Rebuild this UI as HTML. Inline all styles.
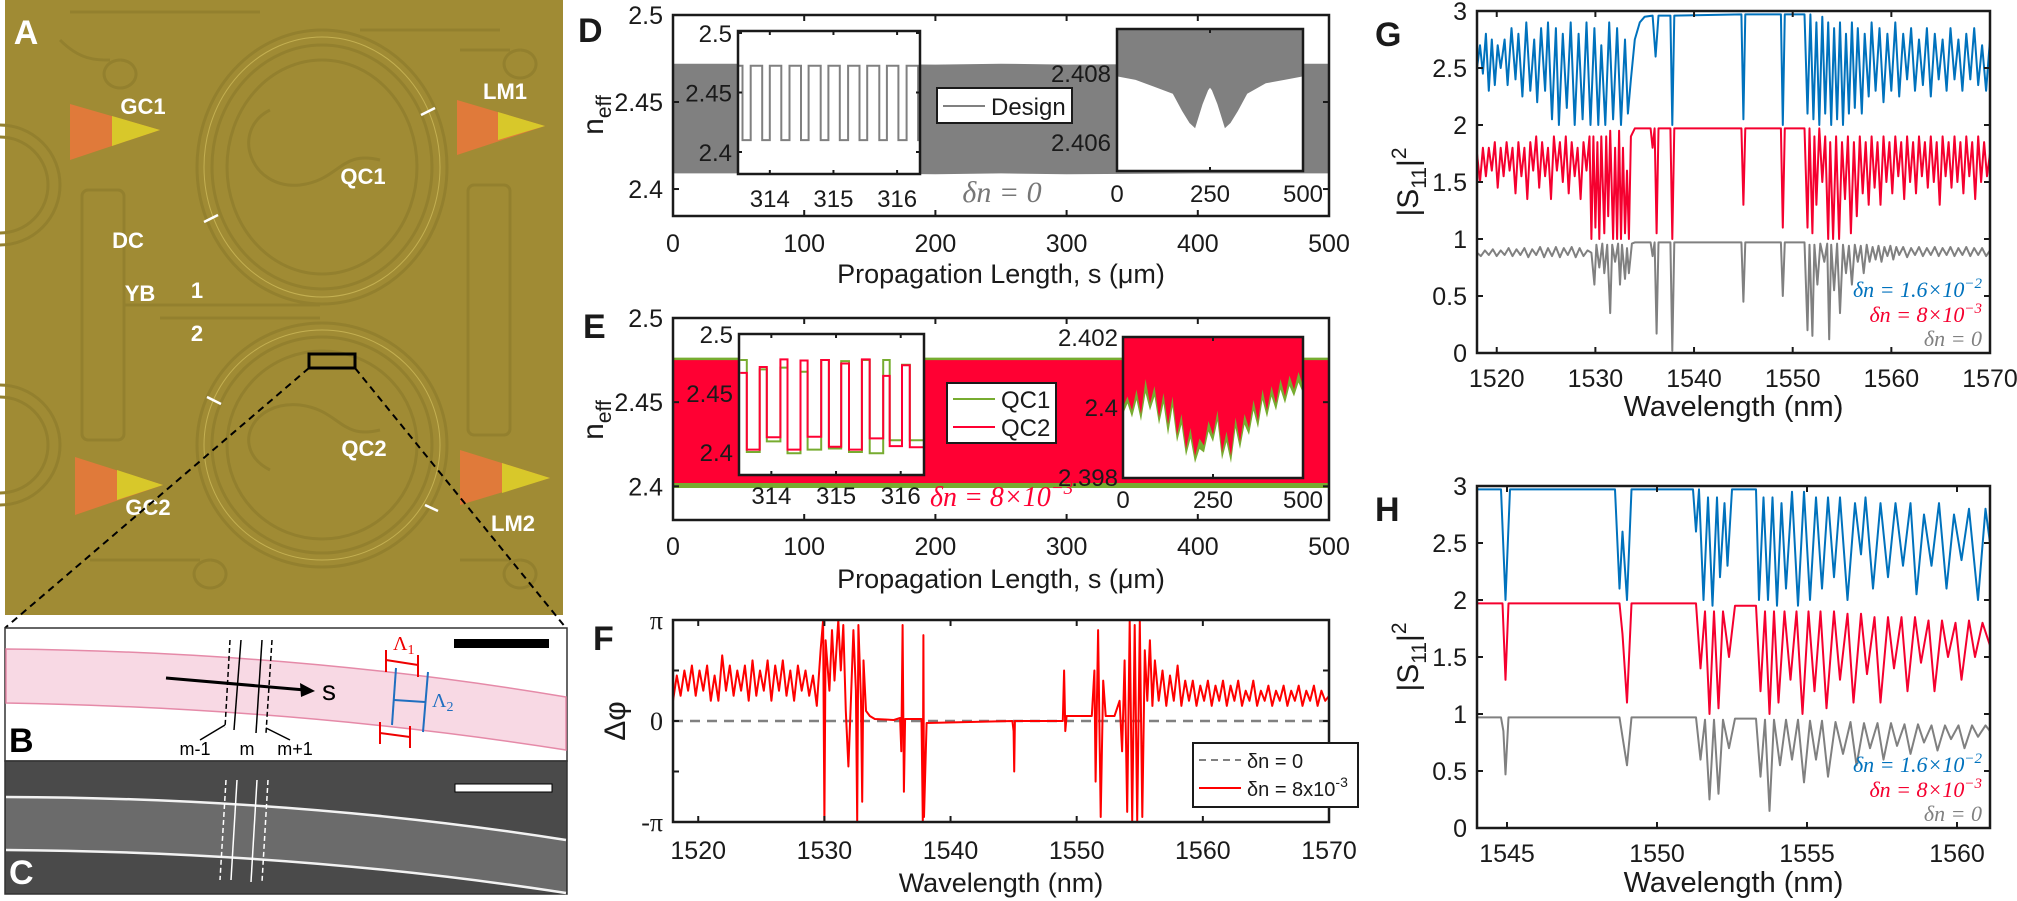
<!DOCTYPE html>
<html><head><meta charset="utf-8"><title>Figure</title>
<style>
html,body{margin:0;padding:0;background:#fff;}
svg{display:block;font-family:"Liberation Sans",sans-serif;}
</style></head>
<body>
<svg id="fig" xmlns="http://www.w3.org/2000/svg" width="2017" height="901" viewBox="0 0 2017 901">
<rect x="0" y="0" width="2017" height="901" fill="#fff"/>
<!-- Panel A photo -->
<g>
  <rect x="5" y="0" width="558" height="615" fill="#a08b34"/>
  <g fill="none" stroke="#93802e" stroke-width="3">
    <ellipse cx="322" cy="167" rx="125" ry="137"/>
    <ellipse cx="322" cy="167" rx="110" ry="122"/>
    <ellipse cx="322" cy="167" rx="95" ry="107"/>
    <ellipse cx="322" cy="445" rx="125" ry="122"/>
    <ellipse cx="322" cy="445" rx="110" ry="108"/>
    <ellipse cx="322" cy="445" rx="95" ry="94"/>
    <path d="M270,110 C230,130 250,190 300,185 C340,180 340,150 380,160"/>
    <path d="M270,470 C230,450 250,400 300,405 C340,410 340,440 380,430"/>
    <circle cx="0" cy="185" r="60"/><circle cx="0" cy="185" r="48"/>
    <circle cx="0" cy="445" r="60"/><circle cx="0" cy="445" r="48"/>
    <rect x="82" y="190" width="42" height="250" rx="6"/>
    <rect x="468" y="185" width="42" height="250" rx="6"/>
    <path d="M125,305 L320,305 M160,318 L320,318"/>
    <path d="M60,40 C80,60 95,60 110,60 M120,60 a16,14 0 1,0 0.1,0"/>
    <path d="M90,560 L200,560 M210,560 a16,14 0 1,0 0.1,0"/>
    <path d="M460,50 L510,50 M520,50 a16,14 0 1,0 0.1,0"/>
    <path d="M460,560 L510,560 M520,560 a16,14 0 1,0 0.1,0"/>
    <path d="M70,12 L260,12 M360,30 L500,30"/>
  </g>
  <g fill="none" stroke="#c4b052" stroke-width="1">
    <ellipse cx="322" cy="167" rx="118" ry="130"/>
    <ellipse cx="322" cy="445" rx="118" ry="115"/>
  </g>
  <polygon points="70,104 160,130 70,160" fill="#e07a3a"/>
  <polygon points="112,116 160,130 112,146" fill="#d8c82a"/>
  <polygon points="457,100 545,126 457,155" fill="#e07a3a"/>
  <polygon points="498,112 545,126 498,140" fill="#d8c82a"/>
  <polygon points="75,457 163,485 75,515" fill="#e07a3a"/>
  <polygon points="117,470 163,485 117,500" fill="#d8c82a"/>
  <polygon points="460,450 550,478 460,505" fill="#e07a3a"/>
  <polygon points="502,463 550,478 502,493" fill="#d8c82a"/>
  <g stroke="#fff" stroke-width="2.5">
    <line x1="421" y1="115" x2="435" y2="108"/><line x1="204" y1="222" x2="218" y2="215"/>
    <line x1="207" y1="397" x2="221" y2="404"/><line x1="425" y1="505" x2="438" y2="511"/>
  </g>
  <g fill="#fff" font-weight="bold" font-size="22" text-anchor="middle">
    <text x="143" y="114">GC1</text>
    <text x="505" y="99">LM1</text>
    <text x="363" y="184">QC1</text>
    <text x="128" y="248">DC</text>
    <text x="140" y="301">YB</text>
    <text x="197" y="298">1</text>
    <text x="197" y="341">2</text>
    <text x="364" y="456">QC2</text>
    <text x="148" y="515">GC2</text>
    <text x="513" y="531">LM2</text>
    <text x="26" y="44" font-size="34">A</text>
  </g>
  <rect x="309" y="354" width="46" height="14" fill="none" stroke="#000" stroke-width="3"/>
  <line x1="309" y1="368" x2="5" y2="628" stroke="#000" stroke-width="2" stroke-dasharray="7,5"/>
  <line x1="355" y1="368" x2="566" y2="628" stroke="#000" stroke-width="2" stroke-dasharray="7,5"/>
</g>
<!-- Panel B -->
<g>
  <rect x="5" y="628" width="562" height="133" fill="#fff" stroke="#333" stroke-width="1.5"/>
  <path d="M6,649 Q300,652 566,697 L566,750 Q300,708 6,703 Z" fill="#f8d9e4" stroke="#e58aa8" stroke-width="1.5"/>
  <rect x="454" y="639" width="95" height="9" fill="#000"/>
  <g stroke="#000" stroke-width="1.5">
    <line x1="230" y1="640" x2="225" y2="728" stroke-dasharray="5,3"/>
    <line x1="241" y1="640" x2="234" y2="730"/>
    <line x1="262" y1="640" x2="256" y2="733"/>
    <line x1="272" y1="640" x2="266" y2="733" stroke-dasharray="5,3"/>
    <line x1="225" y1="725" x2="200" y2="740"/>
    <line x1="266" y1="728" x2="290" y2="740"/>
  </g>
  <line x1="166" y1="678" x2="305" y2="690" stroke="#000" stroke-width="3"/>
  <polygon points="315,691 300,683 301,697" fill="#000"/>
  <text x="322" y="700" font-size="28">s</text>
  <g font-size="18" text-anchor="middle">
    <text x="195" y="755">m-1</text><text x="247" y="755">m</text><text x="295" y="755">m+1</text>
  </g>
  <g stroke="#e00" stroke-width="2">
    <line x1="386" y1="660" x2="418" y2="665"/><line x1="386" y1="650" x2="386" y2="672"/><line x1="418" y1="655" x2="418" y2="677"/>
    <line x1="380" y1="733" x2="410" y2="737"/><line x1="380" y1="722" x2="380" y2="744"/><line x1="410" y1="726" x2="410" y2="748"/>
  </g>
  <g stroke="#1f6fc0" stroke-width="2">
    <line x1="396" y1="668" x2="392" y2="725"/><line x1="428" y1="672" x2="423" y2="732"/><line x1="394" y1="700" x2="425" y2="702"/>
  </g>
  <text x="393" y="650" font-size="20" fill="#e00" font-family="Liberation Serif,serif">Λ<tspan font-size="14" dy="4">1</tspan></text>
  <text x="432" y="707" font-size="20" fill="#1f6fc0" font-family="Liberation Serif,serif">Λ<tspan font-size="14" dy="4">2</tspan></text>
  <text x="9" y="752" font-size="34" font-weight="bold">B</text>
</g>
<!-- Panel C -->
<g>
  <rect x="5" y="761" width="562" height="133" fill="#4a4a4a" stroke="#333" stroke-width="1.5"/>
  <path d="M6,797 Q300,798 566,840 L566,893 Q300,852 6,850 Z" fill="#6b6b6b"/>
  <path d="M6,797 Q300,798 566,840" fill="none" stroke="#f2f2f2" stroke-width="2.5"/>
  <path d="M6,850 Q300,852 566,893" fill="none" stroke="#f2f2f2" stroke-width="2.5"/>
  <g stroke="#fff" stroke-width="1.5">
    <line x1="226" y1="780" x2="220" y2="880" stroke-dasharray="5,3"/>
    <line x1="237" y1="780" x2="231" y2="880"/>
    <line x1="257" y1="780" x2="251" y2="882"/>
    <line x1="268" y1="780" x2="262" y2="882" stroke-dasharray="5,3"/>
  </g>
  <rect x="455" y="784" width="97" height="8" fill="#fff" stroke="#000" stroke-width="1"/>
  <text x="9" y="884" font-size="34" font-weight="bold" fill="#fff">C</text>
</g>
<g id="charts"></g>
</svg>
<script>
// ===== DATA =====
// Panel D
const dBandS = [0, 100, 200, 250, 300, 400, 500];
const dBandTop = [2.472, 2.472, 2.4715, 2.472, 2.4715, 2.472, 2.472];
const dBandBot = [2.409, 2.409, 2.4085, 2.409, 2.4085, 2.409, 2.409];
const dInsetBreaks = [313.5,313.57,313.7,313.88,314.0,314.18,314.31,314.49,314.61,314.8,314.92,315.1,315.23,315.41,315.53,315.72,315.84,316.02,316.15,316.33,316.36];
const dInsetLevels = [2.4725,2.41,2.4725,2.41,2.4725,2.41,2.4725,2.41,2.4725,2.41,2.4725,2.41,2.4725,2.41,2.4725,2.41,2.4725,2.41,2.4725,2.41];
const dIn2S = [0,50,100,150,175,195,210,230,245,250,255,270,290,305,325,350,400,450,500];
const dIn2Low = [2.4079,2.4078,2.4076,2.4074,2.4069,2.40655,2.4064,2.4071,2.4075,2.40757,2.4075,2.4071,2.4064,2.40655,2.4069,2.4074,2.4077,2.4078,2.4079];
// Panel E
const eBandS = [0, 100, 200, 300, 400, 500];
const eRedTop = [2.475, 2.475, 2.475, 2.475, 2.475, 2.475];
const eRedBot = [2.402, 2.402, 2.402, 2.402, 2.402, 2.402];
const eGreenTop = [2.4765, 2.4765, 2.4765, 2.4765, 2.4765, 2.4765];
const eGreenBot = [2.399, 2.399, 2.399, 2.399, 2.399, 2.399];
const eInsetBreaks = [313.52,313.62,313.82,313.93,314.14,314.25,314.45,314.56,314.77,314.89,315.08,315.2,315.4,315.52,315.73,315.83,316.02,316.14,316.36];
const eInsetRed = [2.467,2.402,2.472,2.4125,2.4785,2.402,2.4775,2.413,2.478,2.4045,2.475,2.402,2.4785,2.4115,2.4645,2.405,2.4735,2.404];
const eInsetGreen = [2.478,2.4,2.47,2.409,2.4715,2.399,2.468,2.402,2.478,2.403,2.477,2.4,2.478,2.399,2.478,2.41,2.474,2.41];
const eIn2S = [0,12.5,25,37.5,50,62.5,75,87.5,100,112.5,125,137.5,150,162.5,175,187.5,200,212.5,225,237.5,250,262.5,275,287.5,300,312.5,325,337.5,350,362.5,375,387.5,400,412.5,425,437.5,450,462.5,475,487.5,500];
const eIn2Red = [2.4,2.4003,2.3999,2.4005,2.3998,2.4008,2.4001,2.4006,2.3997,2.4004,2.3995,2.4003,2.3992,2.3998,2.3988,2.3994,2.3986,2.3991,2.3989,2.3996,2.3992,2.3999,2.3987,2.3993,2.3986,2.3997,2.399,2.3998,2.3994,2.4002,2.3996,2.4005,2.3999,2.4006,2.4001,2.4008,2.4003,2.4009,2.4005,2.401,2.4006];
const eIn2Green = [2.3998,2.4001,2.3997,2.4002,2.3996,2.4004,2.3999,2.4003,2.3995,2.4001,2.3992,2.4,2.399,2.3995,2.3986,2.3991,2.3984,2.3988,2.3987,2.3993,2.399,2.3996,2.3985,2.399,2.3984,2.3994,2.3988,2.3995,2.3992,2.3999,2.3994,2.4002,2.3997,2.4003,2.3999,2.4005,2.4001,2.4006,2.4003,2.4007,2.4004];
// Panel F (values in units of pi)
const fWl = [1518,1518.3,1518.6,1518.9,1519.2,1519.5,1519.8,1520.1,1520.4,1520.7,1521,1521.3,1521.6,1521.9,1522.2,1522.5,1522.8,1523.1,1523.4,1523.7,1524,1524.3,1524.6,1524.9,1525.2,1525.5,1525.8,1526.1,1526.4,1526.7,1527,1527.3,1527.6,1527.9,1528.2,1528.5,1528.8,1529.1,1529.4,1529.7,1529.9,1530,1530.1,1530.4,1530.6,1530.8,1531.1,1531.3,1531.5,1531.7,1531.9,1532.1,1532.3,1532.5,1532.6,1532.7,1532.9,1533,1533.1,1533.3,1533.6,1534,1535.5,1536,1536.1,1536.2,1536.3,1536.4,1537.7,1537.8,1537.85,1537.9,1538.1,1544.9,1545,1545.05,1545.1,1548.9,1549,1549.1,1549.2,1551.2,1551.4,1551.5,1551.7,1551.9,1552.1,1552.3,1553,1553.4,1553.6,1553.8,1554,1554.2,1554.4,1554.6,1554.8,1555,1555.2,1555.4,1555.6,1555.8,1556,1556.2,1556.5,1556.8,1557.1,1557.4,1557.7,1558,1558.3,1558.6,1558.9,1559.2,1559.5,1559.8,1560.1,1560.4,1560.7,1561,1561.3,1561.6,1561.9,1562.2,1562.5,1562.8,1563.1,1563.4,1563.7,1564,1564.3,1564.6,1564.9,1565.2,1565.5,1565.8,1566.1,1566.4,1566.7,1567,1567.3,1567.6,1567.9,1568.2,1568.5,1568.8,1569.1,1569.4,1569.7,1570];
const fPhase = [0.2,0.45,0.25,0.5,0.3,0.55,0.25,0.5,0.3,0.55,0.2,0.45,0.2,0.65,0.3,0.55,0.25,0.5,0.3,0.55,0.2,0.6,0.25,0.5,0.3,0.6,0.2,0.55,0.3,0.6,0.25,0.5,0.2,0.55,0.3,0.5,0.25,0.45,0.15,0.7,1.0,-1.0,0.8,0.3,0.9,0.4,1.0,0.5,0.95,0.1,-0.45,0.2,0.9,0.3,-1.0,0.95,0.2,-0.8,0.6,0.1,0.05,0.02,0.01,0.03,-0.3,0.95,-0.7,0.02,0.02,-1.0,0.85,-0.95,-0.02,0,-0.1,-0.5,0,0,0.5,-0.1,0.05,0.05,0.5,-0.6,0.9,-0.95,0.4,0.05,0.05,0.2,-0.3,0.6,-0.9,0.99,-0.99,0.95,-0.99,0.99,-0.95,0.7,0.2,0.8,0.15,0.6,0.2,0.5,0.15,0.45,0.2,0.55,0.15,0.4,0.2,0.4,0.15,0.35,0.2,0.4,0.15,0.35,0.2,0.4,0.15,0.35,0.2,0.4,0.15,0.3,0.2,0.4,0.15,0.3,0.2,0.35,0.15,0.3,0.2,0.35,0.15,0.3,0.2,0.35,0.15,0.3,0.2,0.35,0.15,0.3,0.2,0.25];
// Panel G
const gBlueWl = [1518,1518.3,1518.6,1518.9,1519.2,1519.5,1519.8,1520.1,1520.4,1520.8,1521.1,1521.5,1521.9,1522.2,1522.6,1523,1523.4,1523.8,1524.1,1524.5,1524.9,1525.2,1525.6,1526,1526.3,1526.7,1527.1,1527.5,1527.9,1528.3,1528.7,1529.1,1529.5,1529.9,1530.3,1530.6,1531,1531.4,1531.8,1532.2,1532.6,1533,1533.3,1533.6,1534,1534.5,1535,1535.8,1536.1,1536.4,1537.6,1537.8,1538,1544.8,1545,1545.2,1548.8,1549,1549.2,1551.2,1551.5,1551.8,1552.1,1552.4,1552.7,1553,1553.3,1553.6,1553.9,1554.2,1554.5,1554.8,1555.1,1555.4,1555.7,1556,1556.3,1556.6,1557,1557.3,1557.7,1558,1558.4,1558.8,1559.2,1559.6,1560,1560.4,1560.8,1561.2,1561.6,1562,1562.4,1562.8,1563.2,1563.6,1564,1564.4,1564.8,1565.2,1565.6,1566,1566.4,1566.8,1567.2,1567.6,1568,1568.4,1568.8,1569.2,1569.6,1570];
const gBlue = [2.5,2.7,2.45,2.8,2.3,2.75,2.35,2.7,2.5,2.75,2.35,2.85,2.4,2.8,2.25,2.9,2.3,2.75,2.2,2.85,2.3,2.9,2.05,2.85,2.0,2.8,2.15,2.9,2.0,2.8,2.05,2.9,2.0,2.85,2.0,2.7,2.0,2.9,2.05,2.85,2.0,2.75,2.1,2.4,2.75,2.9,2.95,2.96,2.6,2.96,2.96,2.0,2.96,2.97,2.05,2.97,2.97,2.0,2.97,2.97,2.1,2.97,2.05,2.9,2.0,2.95,2.1,2.9,2.0,2.85,2.05,2.9,2.0,2.8,2.1,2.9,2.15,2.85,2.1,2.8,2.25,2.9,2.3,2.85,2.2,2.8,2.3,2.9,2.25,2.8,2.4,2.85,2.3,2.75,2.35,2.85,2.25,2.8,2.4,2.75,2.3,2.85,2.4,2.75,2.3,2.8,2.4,2.85,2.35,2.7,2.3,2.75];
const gRedWl = [1518,1518.3,1518.6,1518.9,1519.2,1519.5,1519.8,1520.1,1520.4,1520.7,1521,1521.3,1521.6,1521.9,1522.2,1522.5,1522.8,1523.1,1523.4,1523.7,1524,1524.3,1524.6,1524.9,1525.2,1525.5,1525.8,1526.1,1526.4,1526.7,1527,1527.3,1527.6,1527.9,1528.2,1528.5,1528.8,1529.1,1529.4,1529.6,1529.8,1530,1530.2,1530.4,1530.6,1530.9,1531.1,1531.3,1531.5,1531.8,1532,1532.2,1532.4,1532.6,1532.8,1533,1533.2,1533.4,1533.6,1534,1535.6,1535.8,1536,1536.2,1536.4,1537.6,1537.8,1538,1544.8,1545,1545.2,1548.8,1549,1549.2,1551.2,1551.5,1551.7,1552,1552.2,1552.4,1552.7,1553,1553.3,1553.6,1553.8,1554.1,1554.4,1554.7,1555,1555.3,1555.6,1555.9,1556.2,1556.5,1556.8,1557.1,1557.4,1557.7,1558,1558.3,1558.6,1558.9,1559.2,1559.5,1559.8,1560.1,1560.4,1560.7,1561,1561.3,1561.6,1561.9,1562.2,1562.5,1562.8,1563.1,1563.4,1563.7,1564,1564.3,1564.6,1564.9,1565.2,1565.5,1565.8,1566.1,1566.4,1566.7,1567,1567.3,1567.6,1567.9,1568.2,1568.5,1568.8,1569.1,1569.4,1569.7,1570];
const gRed = [1.75,1.5,1.8,1.55,1.8,1.6,1.85,1.45,1.8,1.55,1.85,1.6,1.8,1.4,1.85,1.55,1.8,1.35,1.85,1.6,1.9,1.45,1.85,1.55,1.8,1.35,1.9,1.6,1.85,1.5,1.9,1.4,1.85,1.55,1.8,1.35,1.85,1.6,1.9,1.0,1.9,1.1,1.85,1.0,1.9,1.05,1.9,1.2,1.95,1.0,1.8,1.0,1.95,1.0,1.8,1.05,1.6,1.0,1.9,1.97,1.97,1.8,1.97,1.05,1.97,1.97,1.0,1.97,1.97,1.3,1.97,1.97,1.1,1.97,1.97,1.1,1.97,1.05,1.9,1.3,1.97,1.5,1.9,1.0,1.85,1.0,1.9,1.0,1.85,1.35,1.9,1.05,1.85,1.2,1.9,1.4,1.85,1.3,1.9,1.45,1.85,1.3,1.9,1.5,1.85,1.4,1.9,1.55,1.85,1.35,1.9,1.5,1.85,1.4,1.9,1.55,1.85,1.45,1.9,1.5,1.85,1.3,1.9,1.55,1.85,1.45,1.9,1.5,1.85,1.4,1.9,1.55,1.85,1.35,1.9,1.5,1.85,1.55,1.75];
const gGrayWl = [1518,1518.4,1518.8,1519.2,1519.6,1520,1520.4,1520.8,1521.2,1521.6,1522,1522.4,1522.8,1523.2,1523.6,1524,1524.4,1524.8,1525.2,1525.6,1526,1526.4,1526.8,1527.2,1527.6,1528,1528.4,1528.8,1529.2,1529.6,1529.9,1530.1,1530.4,1530.7,1530.9,1531.2,1531.5,1531.7,1532,1532.3,1532.5,1532.7,1533,1533.2,1533.4,1533.7,1534,1535.6,1535.8,1536,1536.2,1536.4,1537.6,1537.8,1538,1544.8,1545,1545.2,1548.8,1549,1549.2,1551.2,1551.5,1551.7,1552,1552.2,1552.5,1552.8,1553.2,1553.5,1553.7,1553.9,1554.2,1554.5,1554.8,1555.1,1555.4,1555.7,1556,1556.3,1556.6,1556.9,1557.2,1557.5,1557.8,1558.1,1558.4,1558.7,1559,1559.3,1559.6,1559.9,1560.2,1560.5,1560.8,1561.2,1561.6,1562,1562.4,1562.8,1563.2,1563.6,1564,1564.4,1564.8,1565.2,1565.6,1566,1566.4,1566.8,1567.2,1567.6,1568,1568.4,1568.8,1569.2,1569.6,1570];
const gGray = [0.88,0.85,0.9,0.86,0.91,0.85,0.9,0.86,0.92,0.85,0.91,0.86,0.92,0.84,0.91,0.86,0.93,0.84,0.92,0.85,0.93,0.84,0.92,0.86,0.93,0.84,0.92,0.85,0.9,0.88,0.6,0.95,0.75,0.96,0.7,0.95,0.35,0.95,0.8,0.96,0.6,0.95,0.65,0.92,0.7,0.96,0.97,0.97,0.85,0.97,0.17,0.97,0.97,0.02,0.97,0.97,0.45,0.97,0.97,0.5,0.97,0.97,0.2,0.95,0.15,0.95,0.6,0.96,0.8,0.96,0.12,0.95,0.55,0.96,0.35,0.95,0.7,0.94,0.6,0.95,0.8,0.94,0.7,0.95,0.8,0.93,0.82,0.94,0.8,0.93,0.85,0.94,0.82,0.93,0.86,0.93,0.84,0.92,0.86,0.93,0.85,0.92,0.86,0.93,0.85,0.92,0.86,0.93,0.85,0.92,0.86,0.93,0.85,0.92,0.86,0.92,0.85,0.9];
// Panel H
const hBlueWl = [1544,1544.8,1544.95,1545.1,1548.6,1548.75,1548.85,1549,1549.15,1551.2,1551.3,1551.4,1551.55,1551.7,1551.85,1552,1552.1,1552.25,1552.35,1552.5,1553.3,1553.4,1553.55,1553.7,1553.85,1554,1554.15,1554.3,1554.5,1554.7,1554.9,1555.1,1555.3,1555.5,1555.7,1555.9,1556.1,1556.35,1556.6,1556.8,1556.95,1557.2,1557.45,1557.7,1557.95,1558.2,1558.45,1558.65,1558.9,1559.15,1559.4,1559.65,1559.9,1560.15,1560.4,1560.7,1560.95,1561.1];
const hBlue = [2.97,2.97,2.0,2.97,2.97,2.1,2.6,2.0,2.97,2.97,2.6,2.97,2.0,2.9,1.95,2.9,2.2,2.85,2.3,2.97,2.97,2.0,2.9,2.0,2.9,1.95,2.85,2.1,2.95,1.95,2.95,2.0,2.9,2.1,2.9,2.2,2.9,2.0,2.85,2.4,2.9,2.1,2.85,2.2,2.85,2.3,2.85,2.05,2.75,2.3,2.85,2.1,2.75,2.35,2.8,2.0,2.8,2.5];
const hRedWl = [1544,1544.85,1544.95,1545.05,1548.75,1548.85,1549,1549.15,1551.3,1551.45,1551.6,1551.75,1551.9,1552.05,1552.2,1552.4,1552.6,1553.3,1553.45,1553.6,1553.75,1553.9,1554.05,1554.25,1554.45,1554.65,1554.85,1555.05,1555.25,1555.45,1555.65,1555.9,1556.1,1556.35,1556.55,1556.8,1557,1557.25,1557.45,1557.7,1557.9,1558.15,1558.35,1558.6,1558.8,1559.05,1559.25,1559.5,1559.7,1559.95,1560.15,1560.4,1560.6,1560.85,1561.1];
const hRed = [1.97,1.97,1.3,1.97,1.97,1.7,1.1,1.97,1.97,1.4,1.9,1.0,1.9,1.05,1.9,1.5,1.95,1.95,1.2,1.9,1.0,1.9,1.1,1.9,1.3,1.9,1.0,1.9,1.2,1.9,1.05,1.9,1.3,1.88,1.1,1.88,1.35,1.85,1.1,1.85,1.4,1.85,1.2,1.85,1.45,1.82,1.2,1.82,1.5,1.8,1.3,1.82,1.5,1.8,1.6];
const hGrayWl = [1544,1544.8,1544.88,1544.95,1545.05,1548.75,1548.85,1549,1549.15,1551.3,1551.45,1551.6,1551.75,1551.9,1552.05,1552.2,1552.4,1552.6,1553.3,1553.45,1553.6,1553.75,1553.9,1554.1,1554.3,1554.5,1554.7,1554.9,1555.1,1555.3,1555.5,1555.7,1555.95,1556.2,1556.45,1556.65,1556.9,1557.1,1557.35,1557.55,1557.8,1558,1558.25,1558.45,1558.7,1558.9,1559.15,1559.35,1559.6,1559.8,1560.05,1560.25,1560.5,1560.7,1560.95,1561.1];
const hGray = [0.97,0.97,0.85,0.47,0.97,0.97,0.8,0.55,0.97,0.97,0.6,0.95,0.25,0.95,0.3,0.95,0.7,0.96,0.96,0.45,0.95,0.15,0.95,0.55,0.95,0.6,0.95,0.4,0.94,0.6,0.94,0.45,0.93,0.65,0.93,0.55,0.92,0.7,0.92,0.6,0.92,0.72,0.91,0.65,0.91,0.75,0.9,0.68,0.9,0.78,0.9,0.7,0.9,0.8,0.9,0.85];
// Tick labels
const sTicks = [0, 100, 200, 300, 400, 500];
const nTicks = [2.4, 2.45, 2.5];
const insetSTicks = [314, 315, 316];
const wlTicksF = [1520, 1530, 1540, 1550, 1560, 1570];
const phaseTicks = [-1, -0.5, 0, 0.5, 1];
const phaseLabels = ['-π', '', '0', '', 'π'];
const sTicksG = [0, 0.5, 1, 1.5, 2, 2.5, 3];
const wlTicksH = [1545, 1550, 1555, 1560];
const in2Ticks = [0, 250, 500];
const dIn2YTicks = [2.406, 2.408];
const eIn2YTicks = [2.398, 2.4, 2.402];

// ===== HELPERS =====
const NS = 'http://www.w3.org/2000/svg';
const root = document.getElementById('charts');
function mk(tag, attrs, parent) {
  const e = document.createElementNS(NS, tag);
  for (const k in attrs) e.setAttribute(k, attrs[k]);
  (parent || root).appendChild(e);
  return e;
}
function lin(d0, d1, r0, r1) { return v => r0 + (v - d0) * (r1 - r0) / (d1 - d0); }
function pts(xs, ys, sx, sy) { return xs.map((x, i) => sx(x).toFixed(1) + ',' + sy(ys[i]).toFixed(1)).join(' '); }
function bandPts(xs, top, bot, sx, sy) {
  const a = xs.map((x, i) => sx(x).toFixed(1) + ',' + sy(top[i]).toFixed(1));
  const b = xs.map((x, i) => sx(x).toFixed(1) + ',' + sy(bot[i]).toFixed(1)).reverse();
  return a.concat(b).join(' ');
}
function stepPts(breaks, levels, sx, sy) {
  const out = [];
  for (let i = 0; i < levels.length; i++) {
    out.push(sx(breaks[i]).toFixed(1) + ',' + sy(levels[i]).toFixed(1));
    out.push(sx(breaks[i + 1]).toFixed(1) + ',' + sy(levels[i]).toFixed(1));
  }
  return out.join(' ');
}
let clipN = 0;
function clip(x, y, w, h) {
  const id = 'clip' + (clipN++);
  const c = mk('clipPath', { id: id });
  
  
  mk('rect', { x: x, y: y, width: w, height: h }, c);
  return 'url(#' + id + ')';
}
function txt(x, y, s, size, anchor, parent, extra) {
  const t = mk('text', Object.assign({ x: x, y: y, 'font-size': size, 'text-anchor': anchor || 'middle', fill: '#1a1a1a' }, extra || {}), parent);
  t.textContent = s;
  return t;
}
function frame(name, x0, y0, x1, y1, sw, parent) {
  const r = mk('rect', { x: x0, y: y0, width: x1 - x0, height: y1 - y0, fill: 'none', stroke: '#1a1a1a', 'stroke-width': sw }, parent);
  
  
  return r;
}
function xticks(vals, sx, y0, y1, len, parent) {
  vals.forEach(v => {
    mk('line', { x1: sx(v), y1: y1, x2: sx(v), y2: y1 - len, stroke: '#1a1a1a', 'stroke-width': 2 }, parent);
    mk('line', { x1: sx(v), y1: y0, x2: sx(v), y2: y0 + len, stroke: '#1a1a1a', 'stroke-width': 2 }, parent);
  });
}
function yticks(vals, sy, x0, x1, len, parent) {
  vals.forEach(v => {
    mk('line', { x1: x0, y1: sy(v), x2: x0 + len, y2: sy(v), stroke: '#1a1a1a', 'stroke-width': 2 }, parent);
    mk('line', { x1: x1, y1: sy(v), x2: x1 - len, y2: sy(v), stroke: '#1a1a1a', 'stroke-width': 2 }, parent);
  });
}

// ===== PANEL D =====
(function () {
  const g = mk('g', {});
  
  
  const X0 = 673, X1 = 1329, Y0 = 15, Y1 = 216;
  const sx = lin(0, 500, X0, X1), sy = lin(2.3845, 2.5, Y1, Y0);
  const cp = clip(X0, Y0, X1 - X0, Y1 - Y0);
  const band = mk('polygon', { points: bandPts(dBandS, dBandTop, dBandBot, sx, sy), fill: '#808080', 'clip-path': cp }, g);
  
  
  xticks(sTicks, sx, Y0, Y1, 6, g);
  yticks(nTicks, sy, X0, X1, 6, g);
  frame('panel-d-axes-frame', X0, Y0, X1, Y1, 2.5, g);
  sTicks.forEach(v => {
    const t = txt(sx(v), 252, String(v), 25, 'middle', g);
    
    
  });
  nTicks.forEach(v => {
    const t = txt(X0 - 10, sy(v) + 9, String(v), 25, 'end', g);
    
    
  });
  const xt = txt(1001, 283, 'Propagation Length, s (μm)', 27, 'middle', g);
  
  
  const yt = mk('text', { x: 0, y: 0, 'font-size': 30, 'text-anchor': 'middle', fill: '#1a1a1a', transform: 'translate(603,115) rotate(-90)' }, g);
  
  
  yt.innerHTML = 'n<tspan font-size="21" dy="8">eff</tspan>';
  const pl = txt(578, 42, 'D', 34, 'start', g, { 'font-weight': 'bold' });
  
  
  const ix0 = 738, ix1 = 920, iy0 = 31, iy1 = 174;
  const isx = lin(313.5, 316.36, ix0, ix1), isy = lin(2.5, 2.4, 33, 152);
  mk('rect', { x: ix0, y: iy0, width: ix1 - ix0, height: iy1 - iy0, fill: '#fff' }, g);
  const sq = mk('polyline', { points: stepPts(dInsetBreaks, dInsetLevels, isx, isy), fill: 'none', stroke: '#808080', 'stroke-width': 2 }, g);
  
  
  xticks(insetSTicks, isx, iy0, iy1, 4, g);
  yticks(nTicks, isy, ix0, ix1, 4, g);
  frame('d-inset-1-frame', ix0, iy0, ix1, iy1, 2.5, g);
  insetSTicks.forEach(v => {
    const t = txt(isx(v), 207, String(v), 24, 'middle', g);
    
    
  });
  nTicks.forEach(v => {
    const t = txt(ix0 - 6, isy(v) + 9, String(v), 24, 'end', g);
    
    
  });
  const lg = mk('g', {}, g);
  
  
  mk('rect', { x: 937, y: 88, width: 135, height: 35, fill: '#fff', stroke: '#1a1a1a', 'stroke-width': 2 }, lg);
  mk('line', { x1: 943, y1: 106, x2: 985, y2: 106, stroke: '#808080', 'stroke-width': 2 }, lg);
  txt(991, 115, 'Design', 24, 'start', lg);
  const dn = txt(1002, 202, 'δn = 0', 30, 'middle', g, { fill: '#777', 'font-family': 'Liberation Serif,serif', 'font-style': 'italic' });
  
  
  const jx0 = 1117, jx1 = 1303, jy0 = 29, jy1 = 171;
  const jsx = lin(0, 500, jx0, jx1), jsy = lin(2.408, 2.406, 73, 142);
  mk('rect', { x: jx0, y: jy0, width: jx1 - jx0, height: jy1 - jy0, fill: '#fff' }, g);
  const topV = dIn2S.map(() => 2.4095);
  const sh = mk('polygon', { points: bandPts(dIn2S, topV, dIn2Low, jsx, jsy), fill: '#808080', 'clip-path': clip(jx0, jy0, jx1 - jx0, jy1 - jy0) }, g);
  
  
  xticks(in2Ticks, jsx, jy0, jy1, 4, g);
  frame('d-inset-2-frame', jx0, jy0, jx1, jy1, 2.5, g);
  in2Ticks.forEach(v => {
    const t = txt(jsx(v), 202, String(v), 24, 'middle', g);
    
    
  });
  dIn2YTicks.forEach(v => {
    const t = txt(jx0 - 6, jsy(v) + 9, v.toFixed(3), 24, 'end', g);
    
    
  });
})();

// ===== PANEL E =====
(function () {
  const g = mk('g', {});
  
  
  const X0 = 673, X1 = 1329, Y0 = 318, Y1 = 520;
  const sx = lin(0, 500, X0, X1), sy = lin(2.38, 2.5, Y1, Y0);
  const cp = clip(X0, Y0, X1 - X0, Y1 - Y0);
  const gb = mk('polygon', { points: bandPts(eBandS, eGreenTop, eGreenBot, sx, sy), fill: '#77ac30', 'clip-path': cp }, g);
  
  
  const rb = mk('polygon', { points: bandPts(eBandS, eRedTop, eRedBot, sx, sy), fill: '#ff0033', 'clip-path': cp }, g);
  
  
  xticks(sTicks, sx, Y0, Y1, 6, g);
  yticks(nTicks, sy, X0, X1, 6, g);
  frame('panel-e-axes-frame', X0, Y0, X1, Y1, 2.5, g);
  sTicks.forEach(v => {
    const t = txt(sx(v), 555, String(v), 25, 'middle', g);
    
    
  });
  nTicks.forEach(v => {
    const t = txt(X0 - 10, sy(v) + 9, String(v), 25, 'end', g);
    
    
  });
  const xt = txt(1001, 588, 'Propagation Length, s (μm)', 27, 'middle', g);
  
  
  const yt = mk('text', { x: 0, y: 0, 'font-size': 30, 'text-anchor': 'middle', fill: '#1a1a1a', transform: 'translate(603,420) rotate(-90)' }, g);
  
  
  yt.innerHTML = 'n<tspan font-size="21" dy="8">eff</tspan>';
  const pl = txt(583, 338, 'E', 34, 'start', g, { 'font-weight': 'bold' });
  
  
  const ix0 = 739, ix1 = 924, iy0 = 334, iy1 = 475;
  const isx = lin(313.5, 316.36, ix0, ix1), isy = lin(2.5, 2.4, 334, 452);
  mk('rect', { x: ix0, y: iy0, width: ix1 - ix0, height: iy1 - iy0, fill: '#fff' }, g);
  const gl = mk('polyline', { points: stepPts(eInsetBreaks, eInsetGreen, isx, isy), fill: 'none', stroke: '#77ac30', 'stroke-width': 2 }, g);
  
  
  const rl = mk('polyline', { points: stepPts(eInsetBreaks, eInsetRed, isx, isy), fill: 'none', stroke: '#ff0033', 'stroke-width': 2 }, g);
  
  
  xticks(insetSTicks, isx, iy0, iy1, 4, g);
  frame('e-inset-1-frame', ix0, iy0, ix1, iy1, 2.5, g);
  insetSTicks.forEach(v => {
    const t = txt(isx(v), 504, String(v), 24, 'middle', g);
    
    
  });
  nTicks.forEach(v => {
    const t = txt(ix0 - 6, isy(v) + 9, String(v), 24, 'end', g);
    
    
  });
  const lg = mk('g', {}, g);
  
  
  mk('rect', { x: 947, y: 383, width: 109, height: 60, fill: '#fff', stroke: '#1a1a1a', 'stroke-width': 2 }, lg);
  mk('line', { x1: 953, y1: 399, x2: 995, y2: 399, stroke: '#77ac30', 'stroke-width': 2 }, lg);
  mk('line', { x1: 953, y1: 427, x2: 995, y2: 427, stroke: '#ff0033', 'stroke-width': 2 }, lg);
  txt(1001, 408, 'QC1', 24, 'start', lg);
  txt(1001, 436, 'QC2', 24, 'start', lg);
  const dn = mk('text', { x: 930, y: 506, 'font-size': 28, fill: '#ff0033', 'font-family': 'Liberation Serif,serif', 'font-style': 'italic' }, g);
  
  
  dn.innerHTML = 'δn = 8×10<tspan font-size="19" dy="-12">−3</tspan>';
  const jx0 = 1123, jx1 = 1303, jy0 = 337, jy1 = 478;
  const jsx = lin(0, 500, jx0, jx1), jsy = lin(2.402, 2.398, 337, 477);
  mk('rect', { x: jx0, y: jy0, width: jx1 - jx0, height: jy1 - jy0, fill: '#fff' }, g);
  const topV = eIn2S.map(() => 2.4025);
  const cp2 = clip(jx0, jy0, jx1 - jx0, jy1 - jy0);
  const g2 = mk('polygon', { points: bandPts(eIn2S, topV, eIn2Green, jsx, jsy), fill: '#77ac30', 'clip-path': cp2 }, g);
  
  
  const r2 = mk('polygon', { points: bandPts(eIn2S, topV, eIn2Red, jsx, jsy), fill: '#ff0033', 'clip-path': cp2 }, g);
  
  
  xticks(in2Ticks, jsx, jy0, jy1, 4, g);
  frame('e-inset-2-frame', jx0, jy0, jx1, jy1, 2.5, g);
  in2Ticks.forEach(v => {
    const t = txt(jsx(v), 508, String(v), 24, 'middle', g);
    
    
  });
  eIn2YTicks.forEach(v => {
    const t = txt(jx0 - 5, jsy(v) + 9, v === 2.4 ? '2.4' : v.toFixed(3), 24, 'end', g);
    
    
  });
})();

// ===== PANEL F =====
(function () {
  const g = mk('g', {});
  
  
  const X0 = 673, X1 = 1329, Y0 = 620, Y1 = 822;
  const sx = lin(1518, 1570, X0, X1), sy = lin(-1, 1, Y1, Y0);
  const cp = clip(X0, Y0, X1 - X0, Y1 - Y0);
  const zl = mk('line', { x1: X0, y1: sy(0), x2: X1, y2: sy(0), stroke: '#808080', 'stroke-width': 2.5, 'stroke-dasharray': '10,7' }, g);
  
  
  const pl = mk('polyline', { points: pts(fWl, fPhase, sx, sy), fill: 'none', stroke: '#ff0000', 'stroke-width': 2, 'clip-path': cp, 'stroke-linejoin': 'round' }, g);
  
  
  xticks(wlTicksF, sx, Y0, Y1, 6, g);
  yticks(phaseTicks, sy, X0, X1, 6, g);
  frame('panel-f-axes-frame', X0, Y0, X1, Y1, 2.5, g);
  wlTicksF.forEach(v => {
    const t = txt(sx(v), 859, String(v), 25, 'middle', g);
    
    
  });
  phaseTicks.forEach((v, i) => {
    if (!phaseLabels[i]) return;
    const t = txt(X0 - 10, sy(v) + 9, phaseLabels[i], 26, 'end', g, { 'font-family': 'Liberation Serif,serif' });
    
    
  });
  const xt = txt(1001, 892, 'Wavelength (nm)', 27, 'middle', g);
  
  
  const yt = mk('text', { x: 0, y: 0, 'font-size': 30, 'text-anchor': 'middle', fill: '#1a1a1a', transform: 'translate(625,721) rotate(-90)' }, g);
  
  
  yt.textContent = 'Δφ';
  const lb = txt(593, 650, 'F', 34, 'start', g, { 'font-weight': 'bold' });
  
  
  const lg = mk('g', {}, g);
  
  
  mk('rect', { x: 1193, y: 743, width: 165, height: 64, fill: '#fff', stroke: '#1a1a1a', 'stroke-width': 2 }, lg);
  mk('line', { x1: 1199, y1: 760, x2: 1241, y2: 760, stroke: '#808080', 'stroke-width': 2, 'stroke-dasharray': '7,5' }, lg);
  mk('line', { x1: 1199, y1: 788, x2: 1241, y2: 788, stroke: '#ff0000', 'stroke-width': 2 }, lg);
  txt(1247, 768, 'δn = 0', 20, 'start', lg);
  const l2 = txt(1247, 796, 'δn = 8x10', 20, 'start', lg);
  const sup = mk('tspan', { 'font-size': 14, dy: -9 }, l2);
  sup.textContent = '-3';
})();

// ===== PANELS G & H =====
function spectrum(name, X0, X1, Y0, Y1, xmin, xmax, xTicksArr, series, legendY, titleY, tickY, label, labelY, ylabY) {
  const g = mk('g', {});
  
  
  const sx = lin(xmin, xmax, X0, X1), sy = lin(0, 3, Y1, Y0);
  const cp = clip(X0, Y0, X1 - X0, Y1 - Y0);
  series.forEach(s => {
    const l = mk('polyline', { points: pts(s.x, s.y, sx, sy), fill: 'none', stroke: s.c, 'stroke-width': 2, 'clip-path': cp, 'stroke-linejoin': 'round' }, g);
    
    
  });
  xticks(xTicksArr, sx, Y0, Y1, 6, g);
  yticks(sTicksG, sy, X0, X1, 6, g);
  frame(name + '-axes-frame', X0, Y0, X1, Y1, 2.5, g);
  xTicksArr.forEach(v => {
    const t = txt(sx(v), tickY, String(v), 25, 'middle', g);
    
    
  });
  sTicksG.forEach(v => {
    const t = txt(X0 - 10, sy(v) + 9, String(v), 25, 'end', g);
    
    
  });
  const xt = txt((X0 + X1) / 2, titleY, 'Wavelength (nm)', 29, 'middle', g);
  
  
  const yt = mk('text', { x: 0, y: 0, 'font-size': 30, 'text-anchor': 'middle', fill: '#1a1a1a', transform: 'translate(1418,' + ylabY + ') rotate(-90)' }, g);
  
  
  yt.innerHTML = '|S<tspan font-size="21" dy="8">11</tspan><tspan dy="-8">|</tspan><tspan font-size="21" dy="-12">2</tspan>';
  const pl = txt(1375, labelY, label, 34, 'start', g, { 'font-weight': 'bold' });
  
  
  const lg = mk('g', {}, g);
  
  
  const a = mk('text', { x: 1982, y: legendY, 'font-size': 22, 'text-anchor': 'end', fill: '#0072BD', 'font-family': 'Liberation Serif,serif', 'font-style': 'italic' }, lg);
  a.innerHTML = 'δn = 1.6×10<tspan font-size="15" dy="-9">−2</tspan>';
  const b = mk('text', { x: 1982, y: legendY + 25, 'font-size': 22, 'text-anchor': 'end', fill: '#f5002f', 'font-family': 'Liberation Serif,serif', 'font-style': 'italic' }, lg);
  b.innerHTML = 'δn = 8×10<tspan font-size="15" dy="-9">−3</tspan>';
  const c = mk('text', { x: 1982, y: legendY + 49, 'font-size': 22, 'text-anchor': 'end', fill: '#808080', 'font-family': 'Liberation Serif,serif', 'font-style': 'italic' }, lg);
  c.textContent = 'δn = 0';
}
spectrum('panel-g-chart', 1477, 1990, 11, 353, 1518, 1570, wlTicksF,
  [{ x: gBlueWl, y: gBlue, c: '#0072BD', n: 'g-blue-series' },
   { x: gRedWl, y: gRed, c: '#f5002f', n: 'g-red-series' },
   { x: gGrayWl, y: gGray, c: '#808080', n: 'g-gray-series' }],
  297, 416, 387, 'G', 46, 182);
spectrum('panel-h-chart', 1477, 1990, 486, 828, 1544, 1561.1, wlTicksH,
  [{ x: hBlueWl, y: hBlue, c: '#0072BD', n: 'h-blue-series' },
   { x: hRedWl, y: hRed, c: '#f5002f', n: 'h-red-series' },
   { x: hGrayWl, y: hGray, c: '#808080', n: 'h-gray-series' }],
  772, 892, 862, 'H', 521, 657);
</script>
</body></html>
